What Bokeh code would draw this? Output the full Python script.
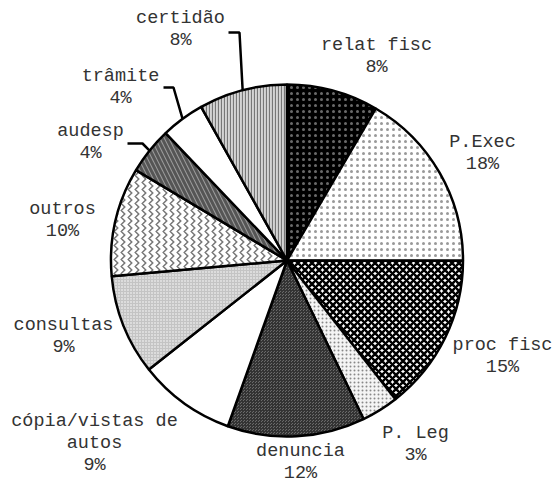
import numpy as np
from bokeh.plotting import figure
from bokeh.models import Range1d
from bokeh.core.properties import value
from bokeh.embed import file_html
from bokeh.resources import INLINE

# ---- data (shares, labels as printed) ----
categories = ["relat fisc", "P.Exec", "proc fisc", "P. Leg", "denuncia",
              "cópia/vistas de\nautos", "consultas", "outros", "audesp",
              "trâmite", "certidão"]
shares = [8.4, 16.6, 14.4, 3.4, 12.6, 8.9, 9.2, 10.0, 4.3, 4.0, 8.1]
pct_labels = ["8%", "18%", "15%", "3%", "12%", "9%", "9%", "10%", "4%", "4%", "8%"]

# ---- styles ----
fills = ["#000000", "#ffffff", "#ffffff", "#f4f4f4", "#6a6a6a", "#ffffff",
         "#c4c4c4", "#ffffff", "#9a9a9a", "#ffffff", "#d4d4d4"]
hatches = ["dot", "dot", "diagonal_cross", "dot", "criss_cross", " ",
           "dot", "vertical_wave", "left_diagonal_line", " ", "vertical_line"]
hcolors = ["#6a6a6a", "#999999", "#000000", "#888888", "#333333", "#000000",
           "#ffffff", "#777777", "#555555", "#000000", "#777777"]
hscales = [6, 6, 7, 4, 3, 6, 3, 7, 9, 6, 3]
hweights = [0.5, 1.0, 2.5, 1.0, 1.0, 1, 1.0, 1.5, 3, 1, 1.2]

# label anchor positions (screen px: x, y of first line)
label_pos = [(376, 45), (482, 142), (502, 345), (415, 433), (300, 451),
             (94, 421), (63, 325), (62, 209), (90, 131), (120, 76), (180, 18)]

W, H = 556, 483
p = figure(width=W, height=H, output_backend="svg", toolbar_location=None,
           x_range=Range1d(0, W), y_range=Range1d(0, H),
           min_border=0, background_fill_color="white")
p.axis.visible = False
p.grid.visible = False
p.outline_line_color = None

cx, cy, R = 286.5, H - 260, 176
fr = np.array(shares) / np.sum(shares)
cum = np.concatenate([[0], np.cumsum(fr)])
a_start = np.pi / 2 - 2 * np.pi * cum[:-1]
a_end = np.pi / 2 - 2 * np.pi * cum[1:]

for i in range(len(shares)):
    kw = dict(fill_color=fills[i], line_color="black", line_width=2.5)
    if hatches[i].strip():
        kw.update(hatch_pattern=hatches[i], hatch_color=hcolors[i],
                  hatch_scale=hscales[i], hatch_weight=hweights[i])
    p.wedge(x=cx, y=cy, radius=R, start_angle=a_end[i], end_angle=a_start[i],
            direction="anticlock", **kw)

font = value("Liberation Mono")
lh = 22
for i, cat in enumerate(categories):
    lines = cat.split("\n") + [pct_labels[i]]
    lx, ly = label_pos[i]
    ys = [H - (ly + k * lh) for k in range(len(lines))]
    p.text(x=[lx] * len(lines), y=ys, text=lines, text_font=font,
           text_font_size="18.5px", text_align="center", text_baseline="middle",
           text_color="#333333")

# leader lines for small top-left slices
mid = (a_start + a_end) / 2
leaders = {10: (228, 32, 239), 9: (163, 87, 173), 8: (127, 143, 142)}
for i, (x0, y0, x1) in leaders.items():
    ex = cx + R * np.cos(mid[i])
    ey = cy + R * np.sin(mid[i])
    p.line(x=[x0, x1, ex], y=[H - y0, H - y0, ey], line_color="black",
           line_width=2.5)

open("out.html", "w").write(file_html(p, INLINE))
